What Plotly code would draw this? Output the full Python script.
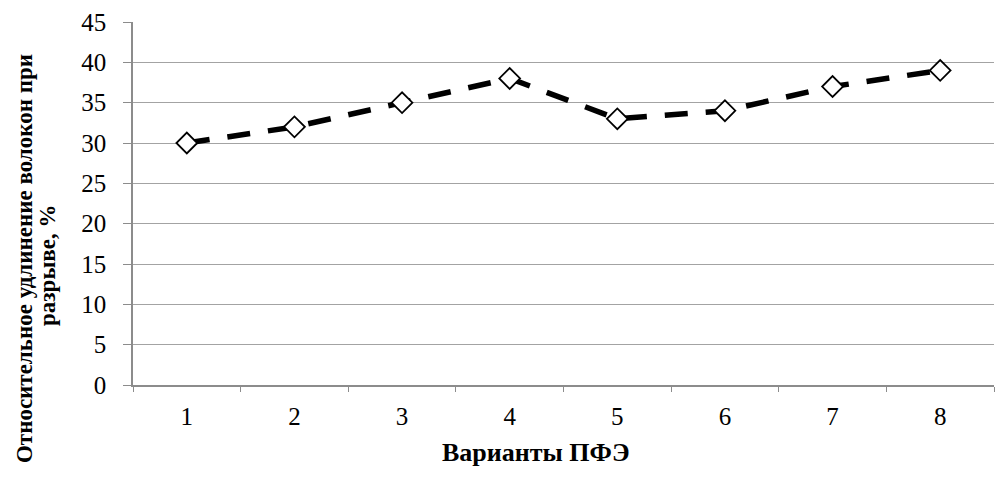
import plotly.graph_objects as go

categories = ["1", "2", "3", "4", "5", "6", "7", "8"]
values = [30, 32, 35, 38, 33, 34, 37, 39]
y_ticks = [0, 5, 10, 15, 20, 25, 30, 35, 40, 45]
x_title = "Варианты ПФЭ"
y_title_1 = "Относительное удлинение волокон при"
y_title_2 = "разрыве, %"

FONT = "Liberation Serif"
GRID = "#a3a3a3"
AXIS = "#8c8c8c"

fig = go.Figure()
fig.add_trace(go.Scatter(
    x=categories, y=values, mode="lines+markers",
    line=dict(color="black", width=5.5, dash="23px,18px"),
    marker=dict(symbol="diamond", size=16, color="white",
                line=dict(color="black", width=1.8)),
    showlegend=False,
))

fig.update_layout(
    width=995, height=483,
    margin=dict(l=133, r=1, t=22, b=98),
    paper_bgcolor="white", plot_bgcolor="white",
    font=dict(family=FONT, size=25, color="black"),
    xaxis=dict(
        type="category", tickson="boundaries", ticks="outside", ticklen=5,
        tickcolor=AXIS, showline=True, linecolor=AXIS, linewidth=1.5,
        showgrid=False, ticklabelstandoff=8,
        tickfont=dict(family=FONT, size=25),
        range=[-0.5, 7.5],
    ),
    yaxis=dict(
        range=[0, 45], tickvals=y_ticks, ticks="outside", ticklen=8,
        tickcolor=AXIS, showline=True, linecolor=AXIS, linewidth=1.5,
        showgrid=True, gridcolor=GRID, gridwidth=1.3, zeroline=False,
        ticklabelstandoff=12, tickfont=dict(family=FONT, size=25),
    ),
    annotations=[
        dict(text="<b>" + x_title + "</b>", xref="paper", yref="paper",
             x=0.468, y=0, yshift=-67, xanchor="center", yanchor="middle",
             showarrow=False, font=dict(family=FONT, size=26)),
        dict(text="<b>" + y_title_1 + "</b>", xref="paper", yref="paper",
             x=0, xshift=-109, y=0.347, xanchor="center", yanchor="middle",
             textangle=-90, showarrow=False,
             font=dict(family=FONT, size=23)),
        dict(text="<b>" + y_title_2 + "</b>", xref="paper", yref="paper",
             x=0, xshift=-85, y=0.328, xanchor="center", yanchor="middle",
             textangle=-90, showarrow=False,
             font=dict(family=FONT, size=23)),
    ],
)

fig.write_html("out.html")
